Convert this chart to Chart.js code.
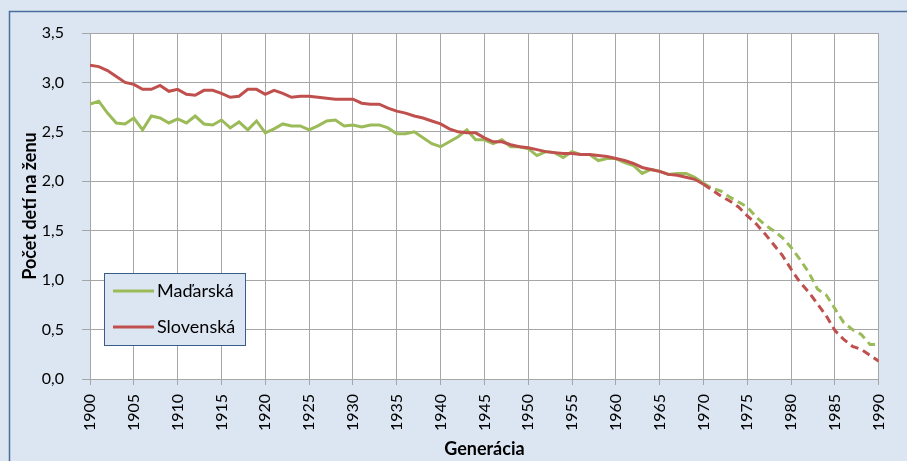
<!DOCTYPE html>
<html lang="sk">
<head>
    <meta charset="UTF-8">
    <title>Počet detí na ženu podľa generácie</title>
    <script src="https://cdn.jsdelivr.net/npm/chart.js"></script>
    <style>
        html, body { margin: 0; padding: 0; background: #dce6f2; }
        #graf-container { width: 907px; height: 461px; }
    </style>
</head>
<body>
    <div id="graf-container">
        <canvas id="graf" width="907" height="461"></canvas>
    </div>

    <script>
        const roky = [
            1900, 1901, 1902, 1903, 1904, 1905, 1906, 1907, 1908, 1909,
            1910, 1911, 1912, 1913, 1914, 1915, 1916, 1917, 1918, 1919,
            1920, 1921, 1922, 1923, 1924, 1925, 1926, 1927, 1928, 1929,
            1930, 1931, 1932, 1933, 1934, 1935, 1936, 1937, 1938, 1939,
            1940, 1941, 1942, 1943, 1944, 1945, 1946, 1947, 1948, 1949,
            1950, 1951, 1952, 1953, 1954, 1955, 1956, 1957, 1958, 1959,
            1960, 1961, 1962, 1963, 1964, 1965, 1966, 1967, 1968, 1969,
            1970, 1971, 1972, 1973, 1974, 1975, 1976, 1977, 1978, 1979,
            1980, 1981, 1982, 1983, 1984, 1985, 1986, 1987, 1988, 1989,
            1990
        ];

        const madarska = [
            2.78, 2.81, 2.69, 2.59, 2.58, 2.64, 2.52, 2.66, 2.64, 2.59,
            2.63, 2.59, 2.66, 2.58, 2.57, 2.62, 2.54, 2.60, 2.52, 2.61,
            2.49, 2.53, 2.58, 2.56, 2.56, 2.52, 2.56, 2.61, 2.62, 2.56,
            2.57, 2.55, 2.57, 2.57, 2.54, 2.48, 2.48, 2.50, 2.44, 2.38,
            2.35, 2.40, 2.45, 2.52, 2.42, 2.42, 2.38, 2.42, 2.35, 2.35,
            2.33, 2.26, 2.30, 2.29, 2.24, 2.30, 2.27, 2.27, 2.21, 2.23,
            2.23, 2.19, 2.16, 2.08, 2.12, 2.10, 2.07, 2.08, 2.08, 2.04,
            1.98, 1.93, 1.90, 1.84, 1.79, 1.74, 1.64, 1.56, 1.50, 1.43,
            1.33, 1.21, 1.08, 0.91, 0.85, 0.71, 0.57, 0.50, 0.45, 0.35,
            0.35
        ];

        const slovenska = [
            3.175, 3.16, 3.12, 3.06, 3.00, 2.98, 2.93, 2.93, 2.97, 2.91,
            2.93, 2.88, 2.87, 2.92, 2.92, 2.89, 2.85, 2.86, 2.93, 2.93,
            2.88, 2.92, 2.89, 2.85, 2.86, 2.86, 2.85, 2.84, 2.83, 2.83,
            2.83, 2.79, 2.78, 2.78, 2.74, 2.71, 2.69, 2.66, 2.64, 2.61,
            2.58, 2.53, 2.50, 2.49, 2.49, 2.44, 2.40, 2.40, 2.37, 2.35,
            2.34, 2.32, 2.30, 2.29, 2.28, 2.28, 2.27, 2.27, 2.26, 2.25,
            2.23, 2.21, 2.18, 2.14, 2.12, 2.10, 2.07, 2.06, 2.04, 2.02,
            1.97, 1.91, 1.85, 1.80, 1.74, 1.65, 1.57, 1.47, 1.36, 1.25,
            1.11, 0.98, 0.88, 0.76, 0.64, 0.49, 0.40, 0.33, 0.30, 0.24,
            0.18
        ];

        // od tejto generácie je čiara prerušovaná (odhad)
        const poslednyRokSkutocnosti = 1970;

        const nazvy = ['Maďarská', 'Slovenská'];
        const farby = ['#9bbb59', '#c0504d'];

        const pismo = 'Lato, "Open Sans", sans-serif';
        const sivaMriezka = '#a6a6a6';

        function body(hodnoty) {
            return roky.map((rok, i) => ({ x: rok, y: hodnoty[i] }));
        }

        const prerusovane = {
            borderDash: ctx => roky[ctx.p0DataIndex] >= poslednyRokSkutocnosti ? [8, 5] : undefined
        };

        // pozadie, biela plocha grafu a rámček
        const pozadie = {
            id: 'pozadie',
            beforeDraw(chart) {
                const { ctx, chartArea: a } = chart;
                ctx.save();
                ctx.fillStyle = '#dce6f2';
                ctx.fillRect(0, 0, chart.width, chart.height);
                ctx.strokeStyle = '#4a6f9e';
                ctx.lineWidth = 1.5;
                ctx.strokeRect(9.5, 11.5, chart.width + 10, chart.height + 10);
                ctx.fillStyle = '#ffffff';
                ctx.fillRect(a.left, a.top, a.right - a.left, a.bottom - a.top);
                ctx.restore();
            }
        };

        // legenda vo vnútri grafu
        const legenda = {
            id: 'legenda',
            afterDraw(chart) {
                const ctx = chart.ctx;
                const x = 104.5, y = 273.5, w = 141, h = 72;
                ctx.save();
                ctx.fillStyle = '#dce6f2';
                ctx.fillRect(x, y, w, h);
                ctx.strokeStyle = '#385d8a';
                ctx.lineWidth = 1;
                ctx.strokeRect(x, y, w, h);
                ctx.font = '18px ' + pismo;
                ctx.textBaseline = 'middle';
                nazvy.forEach((nazov, i) => {
                    const ly = 291 + i * 36;
                    ctx.strokeStyle = farby[i];
                    ctx.lineWidth = 3;
                    ctx.beginPath();
                    ctx.moveTo(113, ly);
                    ctx.lineTo(154, ly);
                    ctx.stroke();
                    ctx.fillStyle = '#000';
                    ctx.fillText(nazov, 157, ly);
                });
                ctx.restore();
            }
        };

        const graf = new Chart(document.getElementById('graf'), {
            type: 'line',
            data: {
                datasets: [
                    {
                        label: nazvy[0],
                        data: body(madarska),
                        borderColor: farby[0],
                        backgroundColor: farby[0],
                        borderWidth: 3,
                        pointRadius: 0,
                        tension: 0,
                        order: 2,
                        segment: prerusovane
                    },
                    {
                        label: nazvy[1],
                        data: body(slovenska),
                        borderColor: farby[1],
                        backgroundColor: farby[1],
                        borderWidth: 3,
                        pointRadius: 0,
                        tension: 0,
                        order: 1,
                        segment: prerusovane
                    }
                ]
            },
            options: {
                responsive: false,
                animation: false,
                layout: { padding: { left: 0, top: 33, right: 19, bottom: 0 } },
                plugins: {
                    legend: { display: false },
                    tooltip: { enabled: false }
                },
                scales: {
                    x: {
                        type: 'linear',
                        min: 1900,
                        max: 1990,
                        afterFit: s => { s.height = 82; },
                        ticks: {
                            stepSize: 5,
                            minRotation: 90,
                            maxRotation: 90,
                            padding: 9,
                            color: '#000',
                            font: { family: pismo, size: 16 },
                            callback: v => String(v)
                        },
                        grid: { color: sivaMriezka, tickLength: 6, lineWidth: 1 },
                        border: { color: sivaMriezka },
                        title: {
                            display: true,
                            text: 'Generácia',
                            color: '#000',
                            font: { family: pismo, size: 18, weight: 'bold' },
                            padding: { top: 0, bottom: 1 }
                        }
                    },
                    y: {
                        min: 0,
                        max: 3.5,
                        afterFit: s => { s.width = 90; },
                        ticks: {
                            stepSize: 0.5,
                            padding: 18,
                            color: '#000',
                            font: { family: pismo, size: 16 },
                            callback: v => v.toFixed(1).replace('.', ',')
                        },
                        grid: { color: sivaMriezka, tickLength: 8, lineWidth: 1 },
                        border: { color: sivaMriezka },
                        title: {
                            display: true,
                            text: 'Počet detí na ženu',
                            color: '#000',
                            font: { family: pismo, size: 18, weight: 'bold' },
                            padding: { top: 19, bottom: 0 }
                        }
                    }
                }
            },
            plugins: [pozadie, legenda]
        });
    </script>
</body>
</html>
